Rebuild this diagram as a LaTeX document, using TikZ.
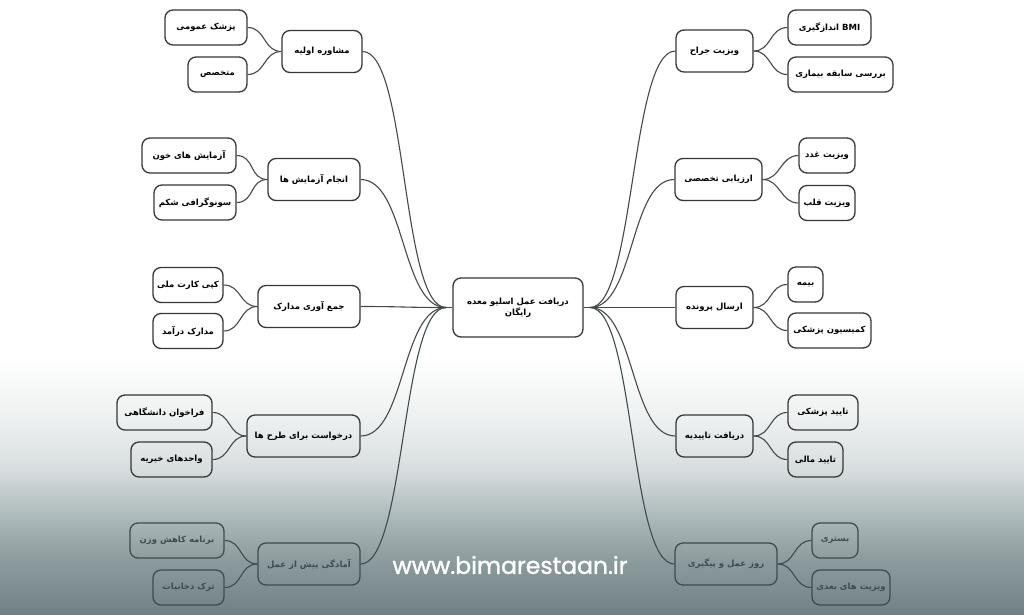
\documentclass[tikz,border=0pt]{standalone}
\usepackage{fontspec}
\setmainfont{DejaVu Sans}
\newfontfamily\arfont[Script=Arabic]{DejaVu Sans}
\newfontfamily\wmfont[FakeBold=1.5]{Poppins}
\TeXXeTstate=1
\newcommand{\fatxt}[1]{\beginR #1\endR}
\definecolor{boxc}{RGB}{55,55,55}
\definecolor{linec}{RGB}{72,72,72}
\definecolor{dimc}{RGB}{62,76,79}
\definecolor{bgA}{RGB}{112,128,131}
\definecolor{bgB}{RGB}{140,155,158}
\definecolor{bgC}{RGB}{178,190,192}
\definecolor{bgD}{RGB}{215,221,222}
\definecolor{bgE}{RGB}{237,240,240}
\pgfdeclareverticalshading{bgshade}{100bp}{color(0bp)=(bgA); color(25bp)=(bgA); color(29.4bp)=(bgB); color(33.5bp)=(bgC); color(36.7bp)=(bgD); color(40.8bp)=(bgE); color(46bp)=(white); color(100bp)=(white)}
\tikzset{
  box/.style={draw=boxc, line width=1.3pt, rounded corners=8pt, minimum height=35pt,
    inner sep=2pt, font=\arfont\bfseries\fontsize{8.5}{11}\selectfont, text=black},
  parbox/.style={box, minimum height=42pt},
  dim/.style={draw=dimc, text=dimc},
  conn/.style={draw=linec, line width=1.1pt},
  dimconn/.style={conn, draw=dimc}
}
\begin{document}
\begin{tikzpicture}[x=1pt,y=-1pt]
\useasboundingbox (0,0) rectangle (1024,614);
\shade[shading=bgshade] (0,0) rectangle (1024,614);

% center
\node[box, minimum width=130pt, minimum height=59pt, align=center] (c) at (518,307.5)
  {\fatxt{دریافت عمل اسلیو معده}\\\fatxt{رایگان}};
\coordinate (cl) at (446,307.5);
\coordinate (cr) at (590,307.5);

% left parents
\node[parbox, minimum width=80pt] (L1) at (322,51.5) {\fatxt{مشاوره اولیه}};
\node[parbox, minimum width=92pt] (L2) at (314,179.5) {\fatxt{انجام آزمایش ها}};
\node[parbox, minimum width=102pt] (L3) at (309,306.5) {\fatxt{جمع آوری مدارک}};
\node[parbox, minimum width=113pt] (L4) at (303.5,436) {\fatxt{درخواست برای طرح ها}};
\node[parbox, dim, minimum width=102pt] (L5) at (309,564) {\fatxt{آمادگی پیش از عمل}};

% left children
\node[box, minimum width=82pt] (L1a) at (206,27.5) {\fatxt{پزشک عمومی}};
\node[box, minimum width=59pt] (L1b) at (217.5,74.5) {\fatxt{متخصص}};
\node[box, minimum width=94pt] (L2a) at (189,155.5) {\fatxt{آزمایش های خون}};
\node[box, minimum width=82pt] (L2b) at (195,202.5) {\fatxt{سونوگرافی شکم}};
\node[box, minimum width=70pt] (L3a) at (188,285) {\fatxt{کپی کارت ملی}};
\node[box, minimum width=70pt] (L3b) at (188,331) {\fatxt{مدارک درآمد}};
\node[box, minimum width=95pt] (L4a) at (164.5,412.5) {\fatxt{فراخوان دانشگاهی}};
\node[box, minimum width=81pt] (L4b) at (171.5,459.5) {\fatxt{واحدهای خیریه}};
\node[box, dim, minimum width=94pt] (L5a) at (177,540.5) {\fatxt{برنامه کاهش وزن}};
\node[box, dim, minimum width=71pt] (L5b) at (188.5,587.5) {\fatxt{ترک دخانیات}};

% right parents
\node[parbox, minimum width=77pt] (R1) at (714.5,51) {\fatxt{ویزیت جراح}};
\node[parbox, minimum width=87pt] (R2) at (718.5,179.5) {\fatxt{ارزیابی تخصصی}};
\node[parbox, minimum width=77pt] (R3) at (714.5,307.5) {\fatxt{ارسال پرونده}};
\node[parbox, minimum width=77pt] (R4) at (714.5,436) {\fatxt{دریافت تاییدیه}};
\node[parbox, dim, minimum width=102pt] (R5) at (726,564) {\fatxt{روز عمل و پیگیری}};

% right children
\node[box, minimum width=83pt] (R1a) at (829.5,27.5) {\fatxt{\beginL BMI\endL{} اندازگیری}};
\node[box, minimum width=105pt] (R1b) at (840.5,74.5) {\fatxt{بررسی سابقه بیماری}};
\node[box, minimum width=56pt] (R2a) at (827,155.5) {\fatxt{ویزیت غدد}};
\node[box, minimum width=56pt] (R2b) at (827,203) {\fatxt{ویزیت قلب}};
\node[box, minimum width=35pt] (R3a) at (805.5,284.5) {\fatxt{بیمه}};
\node[box, minimum width=83pt] (R3b) at (829.5,330.5) {\fatxt{کمیسیون پزشکی}};
\node[box, minimum width=70pt] (R4a) at (823,412.5) {\fatxt{تایید پزشکی}};
\node[box, minimum width=55pt] (R4b) at (815.5,459.5) {\fatxt{تایید مالی}};
\node[box, dim, minimum width=46pt] (R5a) at (835,540.5) {\fatxt{بستری}};
\node[box, dim, minimum width=78pt] (R5b) at (851,587.5) {\fatxt{ویزیت های بعدی}};

% short stubs at the center node
\draw[conn] (c.west) -- (cl);
\draw[conn] (c.east) -- (cr);

% connectors center -> parents
\foreach \p in {L1,L2,L3,L4}
  \draw[conn] (cl) .. controls +(-45,0) and +(45,0) .. (\p.east);
\draw[dimconn] (cl) .. controls +(-45,0) and +(45,0) .. (L5.east);
\foreach \p in {R1,R2,R3,R4}
  \draw[conn] (cr) .. controls +(45,0) and +(-45,0) .. (\p.west);
\draw[dimconn] (cr) .. controls +(45,0) and +(-45,0) .. (R5.west);

% connectors parents -> children
\foreach \p in {L1,L2,L3,L4}{
  \draw[conn] (\p.west) .. controls +(-18,0) and +(18,0) .. (\p a.east);
  \draw[conn] (\p.west) .. controls +(-18,0) and +(18,0) .. (\p b.east);
}
\draw[dimconn] (L5.west) .. controls +(-18,0) and +(18,0) .. (L5a.east);
\draw[dimconn] (L5.west) .. controls +(-18,0) and +(18,0) .. (L5b.east);
\foreach \p in {R1,R2,R3,R4}{
  \draw[conn] (\p.east) .. controls +(18,0) and +(-18,0) .. (\p a.west);
  \draw[conn] (\p.east) .. controls +(18,0) and +(-18,0) .. (\p b.west);
}
\draw[dimconn] (R5.east) .. controls +(18,0) and +(-18,0) .. (R5a.west);
\draw[dimconn] (R5.east) .. controls +(18,0) and +(-18,0) .. (R5b.west);

% watermark
\node[font=\wmfont\fontsize{23.5}{28}\selectfont, text=white] (wm) at (510,565) {www.bimarestaan.ir};
\end{tikzpicture}
\end{document}
